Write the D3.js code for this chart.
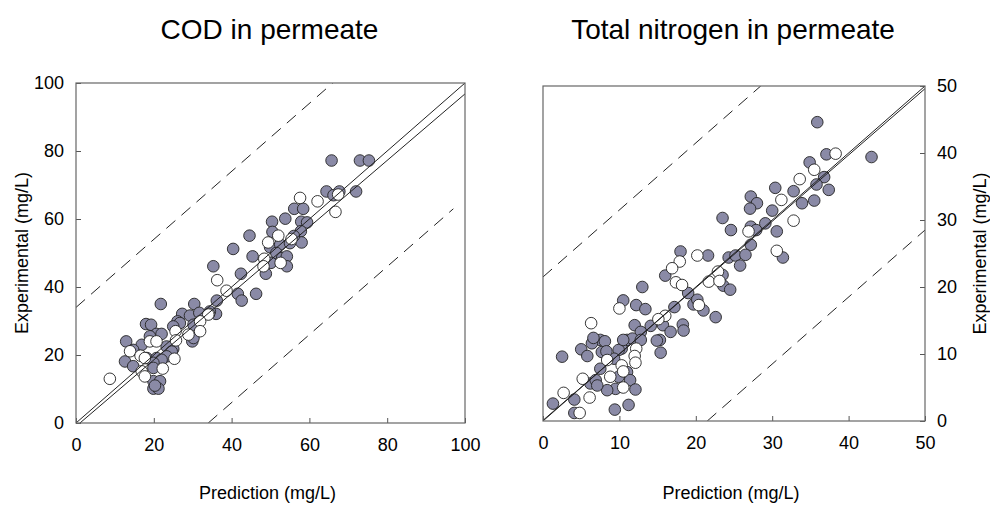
<!DOCTYPE html>
<html>
<head>
<meta charset="utf-8">
<script src="https://cdn.jsdelivr.net/npm/d3@7"></script>
<style>
  body { margin: 0; background: #fff; }
  svg text { font-family: "Liberation Sans", Arial, sans-serif; fill: #000; }
</style>
</head>
<body>
<svg id="chart" width="990" height="507"></svg>
<script>
// COD panel: [prediction, experimental]
const codGray = [
  [65.7,77.2],[73.0,77.2],[75.3,77.2],
  [64.4,68.1],[66.2,67.0],[67.7,68.1],[72.0,68.1],
  [56.1,63.0],[58.4,63.0],[53.8,60.1],[50.4,59.2],[57.9,59.2],[59.4,59.0],
  [50.5,56.2],[57.8,56.4],[44.6,55.1],[58.0,53.1],[49.9,51.7],[52.5,52.5],[55.0,52.9],
  [51.5,50.0],[53.0,48.5],[56.0,55.0],
  [40.4,51.2],[45.4,49.0],[54.2,49.0],[50.1,47.1],[54.2,46.1],[48.8,43.9],
  [35.3,46.1],[42.4,43.9],[41.6,38.0],[42.6,36.0],[46.3,38.0],[36.2,36.0],[36.0,32.1],
  [21.8,35.0],[30.4,35.0],[27.3,32.1],[29.3,31.6],[31.7,32.4],[34.4,32.8],[26.1,29.9],
  [30.2,28.9],[26.7,29.4],[25.0,28.4],
  [29.9,24.0],[30.2,25.0],[25.0,21.8],[23.3,22.5],[24.6,21.0],[23.3,19.6],
  [18.0,29.1],[19.3,28.9],[20.7,26.2],[22.0,26.2],[19.0,25.5],[16.9,23.0],[12.9,24.0],[14.7,21.5],
  [12.6,18.1],[14.7,16.7],[18.2,19.1],[20.7,19.1],[22.0,18.6],[19.9,17.7],[19.9,16.2],
  [19.9,12.3],[21.6,12.3],[19.9,10.1],[21.2,10.1],[20.3,11.0]
];
const codWhite = [
  [67.4,67.2],[57.6,66.2],[62.1,65.2],[66.7,62.1],[49.4,53.1],[52.0,55.1],[55.4,54.1],
  [48.4,48.3],[52.6,47.1],[48.2,46.1],[36.3,42.0],[38.7,38.9],[34.2,32.1],[34.0,31.9],
  [31.9,29.9],[31.9,27.0],[28.9,26.0],[25.6,27.0],[25.7,24.3],[25.3,18.9],[19.0,24.0],
  [20.7,24.0],[13.9,21.1],[16.6,19.8],[17.7,19.1],[22.3,16.0],[16.9,15.2],[17.7,13.7],[8.7,13.0]
];

// Total nitrogen panel: [prediction, experimental]
const tnGray = [
  [35.9,44.6],[43.0,39.4],[37.1,39.8],[34.9,38.6],[36.8,36.4],[35.8,35.3],[37.4,34.5],
  [32.8,34.3],[30.4,34.8],[33.9,32.5],[35.5,32.9],[27.2,33.5],[28.0,32.5],[27.1,31.7],
  [30.0,31.4],[23.5,30.3],[24.6,28.5],[27.2,29.0],[27.9,28.5],[29.1,29.5],[30.6,28.3],
  [27.2,26.3],[31.4,24.4],[18.0,25.3],[21.6,24.7],[16.0,21.7],[24.3,24.4],[25.2,24.7],
  [25.8,23.2],[26.5,24.8],[23.5,21.8],[23.6,20.2],[24.5,19.6],[19.0,19.1],[19.7,17.4],
  [20.2,18.1],[21.0,16.5],[22.6,15.5],[13.0,20.0],[10.5,18.0],[12.2,17.3],[13.4,16.7],
  [17.2,17.0],[15.7,14.3],[16.7,13.3],[18.3,14.4],[18.4,13.5],[14.1,14.2],[12.0,14.3],
  [12.8,13.3],[15.3,12.1],[14.9,12.0],[15.4,10.2],[11.0,12.1],[11.7,12.3],[12.8,12.1],
  [10.3,10.8],[9.9,10.6],[7.5,12.1],[6.4,11.6],[5.0,10.7],[5.8,9.7],[2.5,9.6],[7.7,10.3],
  [9.3,9.3],[7.5,7.8],[11.0,7.3],[9.9,6.6],[11.4,6.1],[12.1,4.7],[9.5,4.8],[8.4,4.6],
  [6.2,5.6],[6.9,6.1],[7.1,5.3],[4.1,3.2],[1.3,2.6],[11.2,2.4],[9.4,1.7],[4.1,1.2],
  [6.6,12.4],[8.1,11.9],[8.3,10.4],[10.5,12.1]
];
const tnWhite = [
  [38.3,39.9],[35.5,37.5],[33.6,36.1],[31.2,33.0],[32.8,29.9],[26.9,28.3],[30.6,25.4],
  [17.9,23.8],[20.2,24.7],[16.9,22.8],[17.4,20.7],[18.2,20.3],[22.9,22.3],[21.7,20.8],
  [23.1,20.9],[20.4,17.3],[10.0,16.8],[16.0,15.7],[15.1,15.2],[6.3,14.6],[12.2,10.8],
  [12.0,9.7],[12.1,8.7],[8.4,9.1],[10.3,8.3],[10.5,7.4],[8.8,6.6],[10.5,5.0],[5.2,6.3],
  [2.7,4.2],[6.1,3.5],[4.8,1.2]
];

const panels = [
  {
    title: "COD in permeate", max: 100, ticks: [0, 20, 40, 60, 80, 100],
    gray: codGray, white: codWhite,
    fit: [0, -1, 100, 96.8], band: 34, lowerEnd: 97,
    x0: 76, x1: 465, y0: 423, y1: 83, side: "left"
  },
  {
    title: "Total nitrogen in permeate", max: 50, ticks: [0, 10, 20, 30, 40, 50],
    gray: tnGray, white: tnWhite,
    fit: [0, 0.1, 50, 49.6], band: 21.5, lowerEnd: 50,
    x0: 543, x1: 925, y0: 421, y1: 86, side: "right"
  }
];

const svg = d3.select("#chart");

panels.forEach(function(p) {
  const x = d3.scaleLinear().domain([0, p.max]).range([p.x0, p.x1]);
  const y = d3.scaleLinear().domain([0, p.max]).range([p.y0, p.y1]);
  const g = svg.append("g");

  const clipId = "clip-" + p.side;
  g.append("clipPath").attr("id", clipId)
    .append("rect")
    .attr("x", p.x0).attr("y", p.y1)
    .attr("width", p.x1 - p.x0).attr("height", p.y0 - p.y1);

  // title
  g.append("text")
    .attr("x", (p.x0 + p.x1) / 2 - 1)
    .attr("y", 39)
    .attr("text-anchor", "middle")
    .attr("font-size", "28px")
    .text(p.title);

  // axes with inward ticks
  const xAxis = g.append("g")
    .attr("transform", "translate(0," + p.y0 + ")")
    .call(d3.axisBottom(x).tickValues(p.ticks).tickSizeInner(-5).tickSizeOuter(0).tickPadding(15));
  const yAxis = g.append("g")
    .attr("transform", "translate(" + (p.side === "left" ? p.x0 : p.x1) + ",0)")
    .call((p.side === "left" ? d3.axisLeft(y) : d3.axisRight(y))
      .tickValues(p.ticks).tickSizeInner(-5).tickSizeOuter(0).tickPadding(12));
  [xAxis, yAxis].forEach(function(a) {
    a.select(".domain").remove();
    a.selectAll(".tick line").attr("stroke", "#555");
    a.selectAll(".tick text").attr("font-size", "18px").attr("font-family", "Liberation Sans, Arial, sans-serif");
  });

  // points
  const pts = g.append("g").attr("clip-path", "url(#" + clipId + ")");
  pts.selectAll("circle.gray").data(p.gray).enter().append("circle")
    .attr("class", "gray")
    .attr("cx", function(d) { return x(d[0]); })
    .attr("cy", function(d) { return y(d[1]); })
    .attr("r", 5.8)
    .attr("fill", "#8a8aa6")
    .attr("stroke", "#222")
    .attr("stroke-width", 0.9);
  pts.selectAll("circle.white").data(p.white).enter().append("circle")
    .attr("class", "white")
    .attr("cx", function(d) { return x(d[0]); })
    .attr("cy", function(d) { return y(d[1]); })
    .attr("r", 5.8)
    .attr("fill", "#fff")
    .attr("stroke", "#222")
    .attr("stroke-width", 0.9);

  // reference lines
  const lines = g.append("g").attr("clip-path", "url(#" + clipId + ")")
    .attr("fill", "none").attr("stroke", "#222").attr("stroke-width", 1);
  lines.append("line")
    .attr("x1", x(0)).attr("y1", y(0)).attr("x2", x(p.max)).attr("y2", y(p.max));
  lines.append("line")
    .attr("x1", x(p.fit[0])).attr("y1", y(p.fit[1])).attr("x2", x(p.fit[2])).attr("y2", y(p.fit[3]));
  lines.append("line")
    .attr("stroke-dasharray", "12,8")
    .attr("x1", x(0)).attr("y1", y(p.band))
    .attr("x2", x(p.max - p.band)).attr("y2", y(p.max));
  lines.append("line")
    .attr("stroke-dasharray", "12,8")
    .attr("x1", x(p.band)).attr("y1", y(0))
    .attr("x2", x(p.lowerEnd)).attr("y2", y(p.lowerEnd - p.band));

  // frame
  g.append("rect")
    .attr("x", p.x0).attr("y", p.y1)
    .attr("width", p.x1 - p.x0).attr("height", p.y0 - p.y1)
    .attr("fill", "none").attr("stroke", "#666").attr("stroke-width", 1.2);

  // axis titles
  g.append("text")
    .attr("x", (p.x0 + p.x1) / 2 - 3)
    .attr("y", 499)
    .attr("text-anchor", "middle")
    .attr("font-size", "18px")
    .text("Prediction (mg/L)");
  const lx = p.side === "left" ? 28 : 986;
  g.append("text")
    .attr("transform", "translate(" + lx + "," + ((p.y0 + p.y1) / 2) + ") rotate(-90)")
    .attr("text-anchor", "middle")
    .attr("font-size", "18px")
    .text("Experimental (mg/L)");
});
</script>
</body>
</html>
